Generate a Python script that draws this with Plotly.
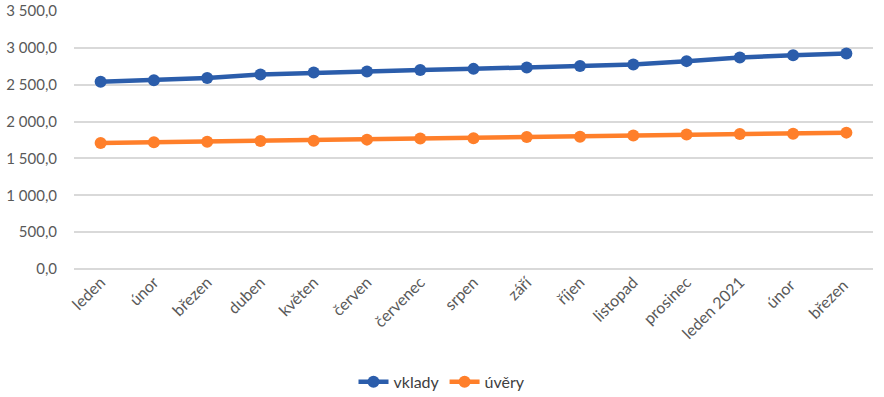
import plotly.graph_objects as go

months = ["leden", "únor", "březen", "duben", "květen", "červen", "červenec", "srpen",
          "září", "říjen", "listopad", "prosinec", "leden 2021", "únor ", "březen "]
vklady = [2540, 2560, 2590, 2640, 2665, 2680, 2700, 2715, 2735, 2755, 2775, 2820, 2870, 2900, 2925]
uvery = [1710, 1720, 1725, 1735, 1740, 1755, 1770, 1775, 1790, 1795, 1810, 1825, 1830, 1835, 1850]
y_ticks = [0, 500, 1000, 1500, 2000, 2500, 3000, 3500]

fig = go.Figure()
fig.add_trace(go.Scatter(x=months, y=vklady, name="vklady", mode="lines+markers",
                         line=dict(color="#2B5DAB", width=4.5),
                         marker=dict(size=12, color="#2B5DAB")))
fig.add_trace(go.Scatter(x=months, y=uvery, name="úvěry", mode="lines+markers",
                         line=dict(color="#FF7F2A", width=4.5),
                         marker=dict(size=12, color="#FF7F2A")))

fig.update_layout(
    width=884, height=397,
    margin=dict(l=74, r=11, t=11, b=128, autoexpand=False),
    plot_bgcolor="white", paper_bgcolor="white",
    separators=", ",
    font=dict(family="Lato, Open Sans, sans-serif", size=14, color="#595959"),
    showlegend=True,
    legend=dict(orientation="h", x=0.5, xanchor="center", xref="container",
                y=0.038, yanchor="middle", yref="container",
                font=dict(size=16, color="#404040")),
    xaxis=dict(tickangle=-45, showgrid=False, showline=False, ticks="", automargin=False,
               range=[-0.5, len(months) - 0.5],
               tickfont=dict(size=16, color="#595959")),
    yaxis=dict(range=[0, 3500], tickvals=y_ticks, tickformat=",.1f", automargin=False,
               showgrid=True, gridcolor="#D9D9D9", gridwidth=1.5,
               zeroline=True, zerolinecolor="#D9D9D9", zerolinewidth=1.5,
               ticks="", ticklabelstandoff=16,
               tickfont=dict(size=15, color="#595959")),
)

fig.write_html("out.html", config={"displayModeBar": False},
               post_script="document.body.style.margin='0';")
